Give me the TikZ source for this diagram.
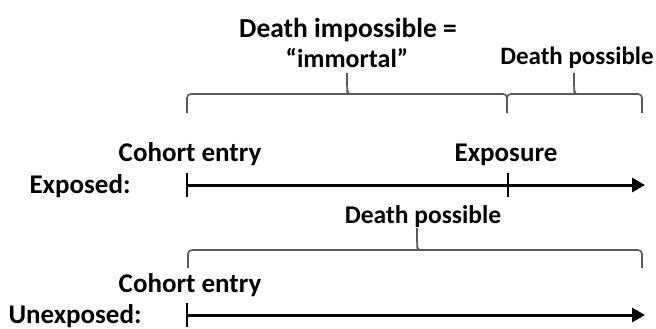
\documentclass[tikz,border=0pt]{standalone}
\usepackage{fontspec}
\setmainfont{Carlito}
\usetikzlibrary{arrows.meta}

\tikzset{
  lbl/.style={font=\bfseries\fontsize{#1}{32}\selectfont, inner sep=0pt, anchor=base},
  lbl/.default=27,
  timeline/.style={line width=3pt, -{Triangle[length=13pt,width=14pt]}},
  tickmark/.style={line width=2.4pt},
  curly/.style={draw=black!65, line width=1.6pt, rounded corners=4pt},
}

\begin{document}
\begin{tikzpicture}[x=1pt,y=-1pt]
  \useasboundingbox (0,0) rectangle (656,329);
  %labels
  \node[lbl=27.5] (dimp) at (348,38) {Death impossible =};
  \node[lbl=26] (immo) at (347,67) {“immortal”};
  \node[lbl=25] (dpostop) at (577,65) {Death possible};
  \node[lbl] (coh1) at (190,161) {Cohort entry};
  \node[lbl] (expo) at (506,161) {Exposure};
  \node[lbl] (exd) at (80,193) {Exposed:};
  \node[lbl=25.5] (dposmid) at (423,223) {Death possible};
  \node[lbl] (coh2) at (190,292) {Cohort entry};
  \node[lbl] (unex) at (75,323) {Unexposed:};
  %timelines
  \coordinate (entA) at (187,185);
  \coordinate (expA) at (508,185);
  \coordinate (endA) at (645,185);
  \coordinate (entB) at (187,315);
  \coordinate (endB) at (645,315);
  \draw[timeline] (entA) -- (endA);
  \draw[timeline] (entB) -- (endB);
  \draw[tickmark] ([yshift=12pt]entA) -- ([yshift=-12pt]entA);
  \draw[tickmark] ([yshift=12pt]expA) -- ([yshift=-12pt]expA);
  \draw[tickmark] ([yshift=12pt]entB) -- ([yshift=-12pt]entB);
  %braces
  \draw[curly] (187,113) |- (344,94) [sharp corners]
    .. controls (347,94) and (347,90) .. (347,73)
    .. controls (347,90) and (347,94) .. (350,94)
    [rounded corners=4pt] -| (507,113);
  \draw[curly] (507,113) |- (571,94) [sharp corners]
    .. controls (574,94) and (574,90) .. (574,73)
    .. controls (574,90) and (574,94) .. (577,94)
    [rounded corners=4pt] -| (642,113);
  \draw[curly] (188,268) |- (414,250) [sharp corners]
    .. controls (417,250) and (417,246) .. (417,228)
    .. controls (417,246) and (417,250) .. (420,250)
    [rounded corners=4pt] -| (642,268);
\end{tikzpicture}
\end{document}
